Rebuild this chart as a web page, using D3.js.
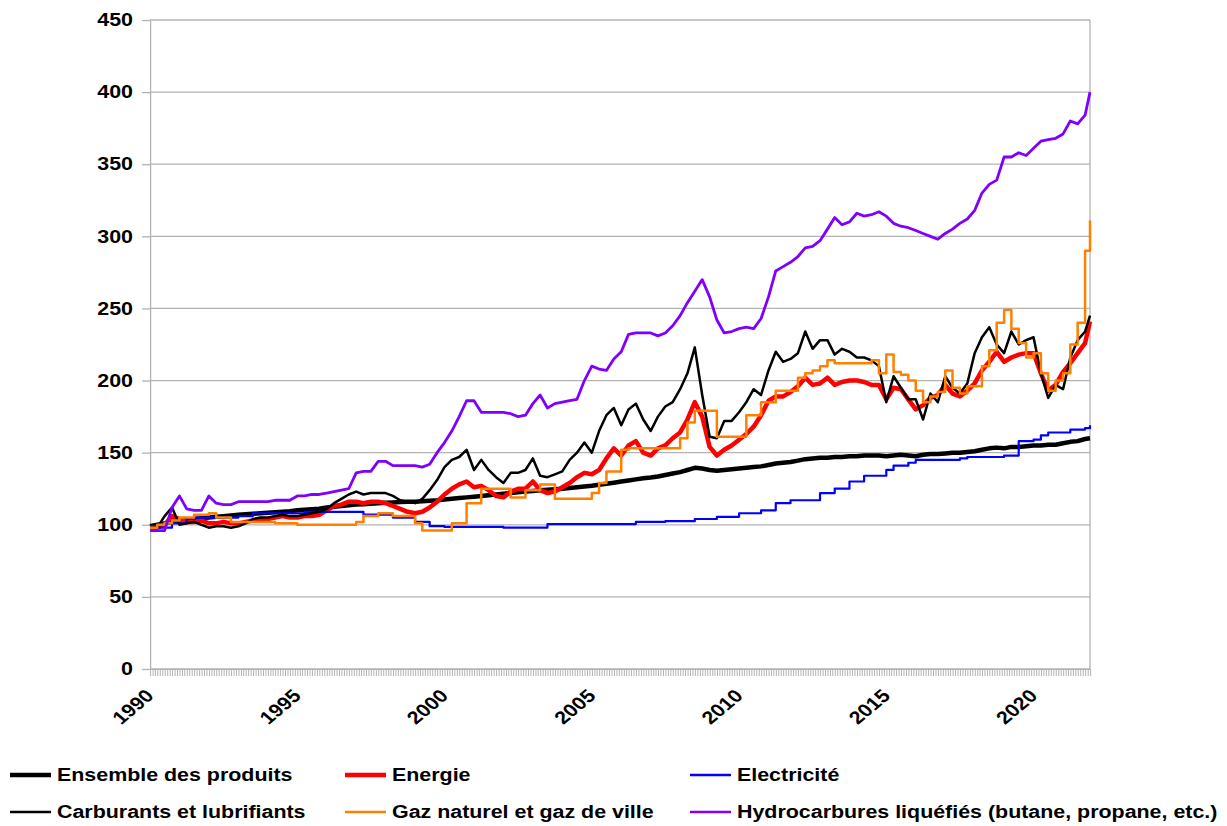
<!DOCTYPE html>
<html>
<head>
<meta charset="utf-8">
<script src="https://cdn.jsdelivr.net/npm/d3@7"></script>
<style>
  body { margin: 0; background: #fff; }
  svg text { font-family: "Liberation Sans", Arial, sans-serif; font-weight: bold; font-size: 18px; fill: #000; }
</style>
</head>
<body>
<svg id="chart"></svg>
<script>
// Quarterly readings (Jan, Apr, Jul, Oct) from 1990 to 2021, plus Dec 2021
const quarters = d3.range(1990, 2022)
  .flatMap(yr => ["01", "04", "07", "10"].map(m => `${yr}-${m}`))
  .concat(["2021-12"]);

const ensemble = [
  99, 100, 101, 102,  103, 103.5, 104, 104.5,  105, 105.5, 106, 106.5,  107, 107.3, 107.6, 108,
  108.3, 108.7, 109, 109.4,  110, 110.4, 110.8, 111.2,  112, 112.5, 113, 113.5,  114, 114.3, 114.6, 115,
  115.2, 115.5, 115.8, 116,  116, 116.3, 116.7, 117,  117.5, 118, 118.5, 119,  119.5, 120, 120.5, 121,
  121.5, 122, 122.5, 123,  123.5, 124, 124.3, 124.7,  125, 125.5, 126, 126.5,  127, 127.7, 128.5, 129.2,
  130, 130.7, 131.5, 132.2,  132.8, 133.5, 134.5, 135.5,  136.5, 138, 139.5, 139,  138, 137.5, 138, 138.5,
  139, 139.5, 140, 140.5,  141.5, 142.5, 143, 143.5,  144.5, 145.5, 146, 146.5,  146.5, 147, 147, 147.5,
  147.5, 148, 148, 148,  147.5, 148, 148.5, 148,  147.5, 148.5, 149, 149,  149.5, 150, 150, 150.5,
  151, 152, 153, 153.5,  153, 154, 154, 154.5,  155, 155, 155.5, 155.5,  156.5, 157.5, 158, 159.5, 160
];

const energie = [
  98, 98, 100, 106,  104, 102, 102, 103,  101, 101, 102, 101,  101, 102, 103, 104,
  104, 105, 106, 105,  105, 106, 106, 107,  110, 113, 114, 116,  116, 115, 116, 116,
  115, 113, 111, 109,  108, 109, 112, 116,  121, 125, 128, 130,  126, 127, 124, 120,
  119, 123, 125, 125,  130, 124, 122, 123,  126, 129, 133, 136,  135, 138, 146, 153,
  148, 155, 158, 150,  148, 153, 155, 160,  164, 173, 185, 175,  154, 148, 152, 155,
  159, 163, 168, 176,  186, 189, 189, 192,  196, 202, 197, 198,  202, 197, 199, 200,
  200, 199, 197, 197,  187, 195, 194, 187,  180, 183, 188, 190,  197, 191, 189, 193,
  198, 207, 213, 220,  213, 216, 218, 219,  219, 205, 193, 197,  206, 212, 219, 226, 241
];

const electricite = [
  98, 98, 98, 101,  101, 104, 105, 105,  105, 105, 105, 105,  106, 106, 108, 108,
  108, 108, 108, 108,  108, 109, 109, 109,  109, 109, 109, 109,  109, 107, 107, 107,
  107, 105, 105, 105,  102, 102, 99, 99,  98.5, 98.5, 98.5, 98.5,  98.5, 98.5, 98.5, 98.5,
  98, 98, 98, 98,  98, 98, 100.5, 100.5,  100.5, 100.5, 100.5, 100.5,  100.5, 100.5, 100.5, 100.5,
  100.5, 100.5, 102, 102,  102, 102, 102.5, 102.5,  102.5, 102.5, 104, 104,  104, 105.5, 105.5, 105.5,
  108, 108, 108, 110,  110, 115, 115, 117,  117, 117, 117, 122,  122, 125, 125, 130,
  130, 134, 134, 134,  138, 141, 141, 143,  145, 145, 145, 145,  145, 145, 146, 147,
  147, 147, 147, 147,  148, 148, 158, 158,  159, 162, 164, 164,  164, 166, 166, 167, 169
];

const carburants = [
  98, 98, 106, 112,  100, 101, 102, 100,  98, 99, 99, 98,  99, 101, 104, 105,
  105, 106, 107, 106,  106, 107, 108, 109,  111, 115, 118, 121,  123, 121, 122, 122,
  122, 120, 117, 116,  115, 118, 124, 131,  140, 145, 147, 152,  138, 145, 138, 133,
  129, 136, 136, 138,  146, 134, 133, 135,  137, 145, 150, 157,  150, 165, 176, 181,
  169, 180, 184, 173,  165, 175, 182, 185,  194, 205, 223, 190,  161, 160, 172, 172,
  178, 185, 194, 190,  207, 220, 213, 215,  219, 234, 222, 228,  228, 218, 222, 220,
  216, 216, 214, 210,  185, 203, 195, 187,  187, 173, 191, 185,  203, 195, 191, 198,
  219, 230, 237, 225,  219, 234, 225, 228,  230, 205, 188, 197,  194, 216, 228, 234, 245
];

const gaz = [
  98, 100, 101, 103,  105, 105, 107, 107,  108, 105, 105, 102,  102, 102, 102, 102,
  102, 101, 101, 101,  100, 100, 100, 100,  100, 100, 100, 100,  102, 106, 106, 108,
  108, 106, 106, 106,  101, 96, 96, 96,  96, 101, 101, 115,  115, 125, 125, 125,
  125, 119, 119, 124,  124, 128, 128, 118,  118, 118, 118, 118,  122, 129, 137, 137,
  152, 153, 153, 153,  153, 153, 153, 153,  160, 171, 179, 179,  179, 161, 161, 161,
  161, 176, 176, 185,  185, 193, 193, 193,  202, 205, 207, 210,  214, 212, 212, 212,
  212, 212, 214, 205,  218, 206, 204, 200,  193, 185, 189, 192,  207, 195, 191, 196,
  196, 210, 221, 240,  249, 236, 226, 216,  219, 205, 193, 200,  205, 225, 240, 290, 311
];

const hydrocarbures = [
  96, 96, 96, 112,  120, 111, 110, 110,  120, 115, 114, 114,  116, 116, 116, 116,
  116, 117, 117, 117,  120, 120, 121, 121,  122, 123, 124, 125,  136, 137, 137, 144,
  144, 141, 141, 141,  141, 140, 142, 150,  157, 165, 175, 186,  186, 178, 178, 178,
  178, 177, 175, 176,  184, 190, 181, 184,  185, 186, 187, 200,  210, 208, 207, 215,
  220, 232, 233, 233,  233, 231, 233, 238,  245, 254, 262, 270,  258, 242, 233, 234,
  236, 237, 236, 243,  258, 276, 279, 282,  286, 292, 293, 297,  305, 313, 308, 310,
  316, 314, 315, 317,  314, 309, 307, 306,  304, 302, 300, 298,  302, 305, 309, 312,
  318, 330, 336, 339,  355, 355, 358, 356,  361, 366, 367, 368,  371, 380, 378, 384, 400
];

const yTicks = [0, 50, 100, 150, 200, 250, 300, 350, 400, 450];
const yearLabels = ["1990", "1995", "2000", "2005", "2010", "2015", "2020"];

const series = [
  { name: "Ensemble des produits", values: ensemble, color: "#000000", width: 4.5, step: false },
  { name: "Energie", values: energie, color: "#ff0000", width: 4.5, step: false },
  { name: "Electricité", values: electricite, color: "#0000ff", width: 2.2, step: true },
  { name: "Carburants et lubrifiants", values: carburants, color: "#000000", width: 2.5, step: false },
  { name: "Gaz naturel et gaz de ville", values: gaz, color: "#ff8000", width: 2.5, step: true },
  { name: "Hydrocarbures liquéfiés (butane, propane, etc.)", values: hydrocarbures, color: "#7f00ff", width: 2.8, step: false }
];

// the original picture is stretched sideways, so draw in narrower units and scale x
const SX = 1.19;
const width = 1227, height = 826;
const margin = { top: 20, bottom: 669, left: 150 / SX, right: 1090 / SX };
const grid = "#b3b3b3";

const svg = d3.select("#chart").attr("width", width).attr("height", height);
svg.append("rect").attr("width", width).attr("height", height).attr("fill", "#fff");
const g = svg.append("g").attr("transform", `scale(${SX},1)`);

const parse = d3.timeParse("%Y-%m");
const dates = quarters.map(parse);

const x = d3.scaleTime()
  .domain([parse("1990-01"), parse("2021-12")])
  .range([margin.left, margin.right]);

const y = d3.scaleLinear()
  .domain([0, 450])
  .range([margin.bottom, margin.top]);

// horizontal gridlines
g.append("g")
  .selectAll("line")
  .data(yTicks)
  .join("line")
  .attr("x1", margin.left)
  .attr("x2", margin.right)
  .attr("y1", d => y(d))
  .attr("y2", d => y(d))
  .attr("stroke", grid)
  .attr("stroke-width", 1.3)
  .attr("vector-effect", "non-scaling-stroke");

// right border of the plot
g.append("line")
  .attr("x1", margin.right).attr("x2", margin.right)
  .attr("y1", margin.top).attr("y2", margin.bottom)
  .attr("stroke", grid).attr("stroke-width", 1.3)
  .attr("vector-effect", "non-scaling-stroke");

// Y axis
const yAxis = g.append("g")
  .attr("transform", `translate(${margin.left},0)`)
  .call(d3.axisLeft(y).tickValues(yTicks).tickSize(8 / SX).tickSizeOuter(0).tickPadding(9 / SX));
yAxis.selectAll("path, line")
  .attr("stroke", grid).attr("stroke-width", 1.3)
  .attr("vector-effect", "non-scaling-stroke");

// X axis with one small tick per month
const months = d3.timeMonth.range(parse("1990-01"), parse("2022-01"));
const xAxis = g.append("g")
  .attr("transform", `translate(0,${margin.bottom})`)
  .call(d3.axisBottom(x).tickValues(months).tickSize(7).tickSizeOuter(0).tickFormat(""));
xAxis.selectAll("path, line")
  .attr("stroke", grid).attr("stroke-width", 1)
  .attr("vector-effect", "non-scaling-stroke");

// rotated year labels
g.append("g")
  .selectAll("text")
  .data(yearLabels)
  .join("text")
  .attr("text-anchor", "end")
  .attr("transform", d => `translate(${x(parse(d + "-01")) + 5 / SX},697) rotate(-45)`)
  .text(d => d);

// series lines
series.forEach(s => {
  const line = d3.line()
    .x((d, i) => x(dates[i]))
    .y(d => y(d))
    .curve(s.step ? d3.curveStepAfter : d3.curveLinear);

  g.append("path")
    .datum(s.values)
    .attr("fill", "none")
    .attr("stroke", s.color)
    .attr("stroke-width", s.width)
    .attr("stroke-linejoin", "round")
    .attr("vector-effect", "non-scaling-stroke")
    .attr("d", line);
});

// legend, 3 columns x 2 rows
const legendCols = [10, 345, 690];
const legendRows = [775, 812];
const legend = g.append("g")
  .selectAll("g")
  .data(series)
  .join("g")
  .attr("transform", (d, i) => `translate(${legendCols[i % 3] / SX},${legendRows[Math.floor(i / 3)]})`);

legend.append("line")
  .attr("x1", 0).attr("x2", 41 / SX)
  .attr("stroke", d => d.color)
  .attr("stroke-width", d => d.width > 4 ? 4.5 : 2.5)
  .attr("vector-effect", "non-scaling-stroke");

legend.append("text")
  .attr("x", 47 / SX)
  .attr("dy", "0.35em")
  .text(d => d.name);
</script>
</body>
</html>
